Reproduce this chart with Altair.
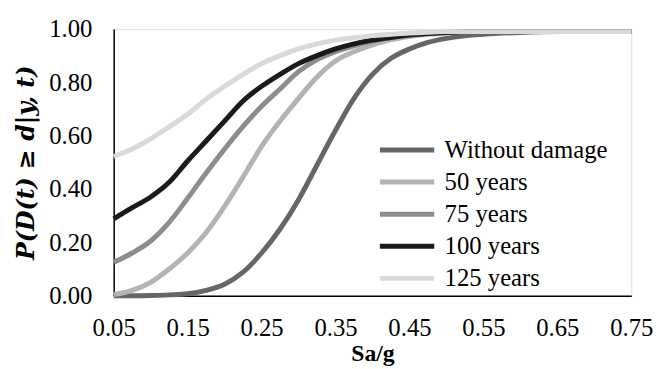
import altair as alt
import pandas as pd

sa_g = [0.05, 0.075, 0.1, 0.125, 0.15, 0.175, 0.2, 0.225, 0.25, 0.275, 0.3, 0.325,
        0.35, 0.375, 0.4, 0.425, 0.45, 0.475, 0.5, 0.55, 0.6, 0.65, 0.7, 0.75]

without_damage = [0.0, 0.0, 0.001, 0.003, 0.007, 0.02, 0.043, 0.088, 0.16, 0.25, 0.36, 0.49,
                  0.62, 0.74, 0.83, 0.89, 0.925, 0.95, 0.965, 0.98, 0.987, 0.99, 0.99, 0.99]
years_50 = [0.004, 0.02, 0.05, 0.10, 0.16, 0.237, 0.335, 0.445, 0.56, 0.655, 0.74, 0.82,
            0.88, 0.915, 0.94, 0.96, 0.972, 0.98, 0.985, 0.99, 0.99, 0.99, 0.99, 0.99]
years_75 = [0.125, 0.16, 0.205, 0.275, 0.365, 0.46, 0.55, 0.635, 0.71, 0.775, 0.84, 0.885,
            0.915, 0.937, 0.955, 0.968, 0.977, 0.983, 0.987, 0.99, 0.99, 0.99, 0.99, 0.99]
years_100 = [0.288, 0.33, 0.37, 0.425, 0.505, 0.58, 0.655, 0.73, 0.785, 0.83, 0.87, 0.90,
             0.925, 0.944, 0.958, 0.968, 0.977, 0.983, 0.987, 0.99, 0.99, 0.99, 0.99, 0.99]
years_125 = [0.522, 0.55, 0.588, 0.633, 0.68, 0.737, 0.785, 0.83, 0.87, 0.90, 0.925, 0.944,
             0.958, 0.967, 0.975, 0.98, 0.985, 0.988, 0.99, 0.99, 0.99, 0.99, 0.99, 0.99]

series_names = ["Without damage", "50 years", "75 years", "100 years", "125 years"]
series_values = [without_damage, years_50, years_75, years_100, years_125]
series_colors = ["#666666", "#b3b3b3", "#8c8c8c", "#1a1a1a", "#d9d9d9"]

x_ticks = [0.05, 0.15, 0.25, 0.35, 0.45, 0.55, 0.65, 0.75]
y_ticks = [0.0, 0.2, 0.4, 0.6, 0.8, 1.0]

rows = []
for order, (name, vals) in enumerate(zip(series_names, series_values)):
    for x, y in zip(sa_g, vals):
        rows.append({"Sa/g": x, "P": y, "Series": name, "order": order})
df = pd.DataFrame(rows)

FONT = "Times New Roman, Liberation Serif, serif"
MATH_FONT = "DejaVu Serif, serif"

chart = alt.Chart(df).mark_line(strokeWidth=5, interpolate="monotone").encode(
    x=alt.X("Sa/g:Q",
            scale=alt.Scale(domain=[0.05, 0.75], nice=False, zero=False),
            axis=alt.Axis(values=x_ticks, format=".2f", title="Sa/g",
                          labelFont=FONT, labelFontSize=25, labelColor="black",
                          labelPadding=20, labelFlush=False, ticks=False, grid=False,
                          domainColor="black", domainWidth=1.5,
                          titleFont=FONT, titleFontSize=24, titleFontWeight="bold",
                          titleColor="black", titlePadding=2)),
    y=alt.Y("P:Q",
            scale=alt.Scale(domain=[0, 1], nice=False),
            axis=alt.Axis(values=y_ticks, format=".2f", title="P(D(t) ≥ d|y, t)",
                          labelFont=FONT, labelFontSize=25, labelColor="black",
                          labelPadding=22, ticks=False, grid=False,
                          domainColor="black", domainWidth=1.5,
                          titleFont=MATH_FONT, titleFontSize=24, titleFontWeight="bold",
                          titleFontStyle="italic", titleColor="black", titlePadding=10)),
    color=alt.Color("Series:N",
                    scale=alt.Scale(domain=series_names, range=series_colors),
                    legend=alt.Legend(title=None, orient="none", legendX=267, legendY=110,
                                      symbolType="stroke", symbolSize=3025,
                                      symbolStrokeWidth=5, labelFont=FONT,
                                      labelFontSize=25, labelColor="black",
                                      labelOffset=8, labelLimit=400, clipHeight=25,
                                      rowPadding=6.5)),
    order=alt.Order("order:Q"),
    detail="Series:N",
).properties(
    width=524,
    height=270,
    autosize=alt.AutoSizeParams(type="none"),
    padding={"left": 107, "top": 19, "right": 24, "bottom": 72},
).configure_view(stroke=None).configure(background="white")

chart.save("out.html", embed_options={"renderer": "svg", "actions": False})
